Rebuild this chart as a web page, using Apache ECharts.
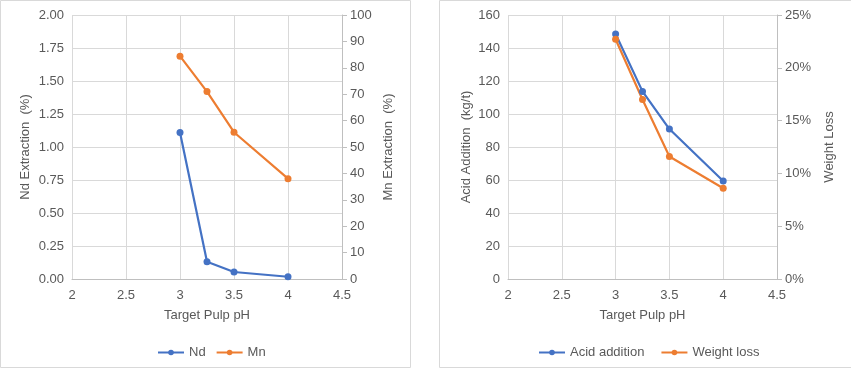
<!DOCTYPE html>
<html><head><meta charset="utf-8">
<script src="https://cdn.jsdelivr.net/npm/echarts@6/dist/echarts.min.js"></script>
<style>html,body{margin:0;padding:0;background:#fff}#c{width:851px;height:369px}</style>
</head><body><div id="c"></div>
<script>
const ph = [3, 3.25, 3.5, 4];
const nd = [1.11, 0.13, 0.053, 0.017];
const mn = [84.4, 71.0, 55.6, 38.0];
const acid = [148.5, 113.7, 90.9, 59.4];
const weightLoss = [0.227, 0.170, 0.116, 0.086];

const pair = (xs, ys) => xs.map((x, i) => [x, ys[i]]);
const BLUE = '#4472C4', ORANGE = '#ED7D31', TXT = '#595959', GRID = '#d9d9d9';
const FONT = 'Liberation Sans';
const lab = {color: TXT, fontSize: 13, fontFamily: FONT};
const nameStyle = {color: TXT, fontSize: 13, fontFamily: FONT};

function xAxis(gi) {
  return {type: 'value', gridIndex: gi, min: 2, max: 4.5, interval: 0.5,
    name: 'Target Pulp pH', nameLocation: 'middle', nameGap: 30, nameTextStyle: nameStyle,
    axisLine: {show: true, lineStyle: {color: '#bfbfbf'}}, axisTick: {show: false},
    axisLabel: Object.assign({margin: 10}, lab),
    splitLine: {show: true, lineStyle: {color: GRID}}};
}
function yAxis(gi, pos, min, max, interval, name, fmt, gap, showLine) {
  return {type: 'value', gridIndex: gi, position: pos, min, max, interval,
    name, nameLocation: 'middle', nameGap: gap, nameTextStyle: nameStyle,
    axisLine: {show: showLine, lineStyle: {color: '#bfbfbf'}},
    axisTick: {show: showLine, length: 5, lineStyle: {color: '#bfbfbf'}},
    axisLabel: Object.assign({formatter: fmt, margin: 8}, lab),
    splitLine: {show: pos === 'left', lineStyle: {color: GRID}}};
}
function line(name, data, color, xi, yi) {
  return {name, type: 'line', xAxisIndex: xi, yAxisIndex: yi, data,
    symbol: 'circle', symbolSize: 7, lineStyle: {color, width: 2.2},
    itemStyle: {color}, animation: false};
}

const chart = echarts.init(document.getElementById('c'));
chart.setOption({
  animation: false,
  grid: [
    {left: 72, top: 15, width: 270, height: 264},
    {left: 508, top: 15, width: 269, height: 264}
  ],
  xAxis: [xAxis(0), xAxis(1)],
  yAxis: [
    yAxis(0, 'left', 0, 2, 0.25, 'Nd Extraction  (%)', v => v.toFixed(2), 40, false),
    yAxis(0, 'right', 0, 100, 10, 'Mn Extraction  (%)', v => String(v), 40, true),
    yAxis(1, 'left', 0, 160, 20, 'Acid Addition  (kg/t)', v => String(v), 35, false),
    yAxis(1, 'right', 0, 0.25, 0.05, 'Weight Loss', v => Math.round(v * 100) + '%', 46, true)
  ],
  legend: [
    {data: ['Nd', 'Mn'], left: 152, top: 341, itemWidth: 26, itemHeight: 7, itemGap: 10,
      textStyle: {color: TXT, fontSize: 13, fontFamily: FONT}},
    {data: ['Acid addition', 'Weight loss'], left: 533, top: 341, itemWidth: 26, itemHeight: 7, itemGap: 16,
      textStyle: {color: TXT, fontSize: 13, fontFamily: FONT}}
  ],
  graphic: [
    {type: 'rect', shape: {x: 0.5, y: 0.5, width: 410, height: 367}, style: {fill: 'none', stroke: '#d9d9d9', lineWidth: 1}, silent: true},
    {type: 'rect', shape: {x: 439.5, y: 0.5, width: 420, height: 367}, style: {fill: 'none', stroke: '#d9d9d9', lineWidth: 1}, silent: true}
  ],
  series: [
    line('Nd', pair(ph, nd), BLUE, 0, 0),
    line('Mn', pair(ph, mn), ORANGE, 0, 1),
    line('Acid addition', pair(ph, acid), BLUE, 1, 2),
    line('Weight loss', pair(ph, weightLoss), ORANGE, 1, 3)
  ]
});
</script></body></html>
